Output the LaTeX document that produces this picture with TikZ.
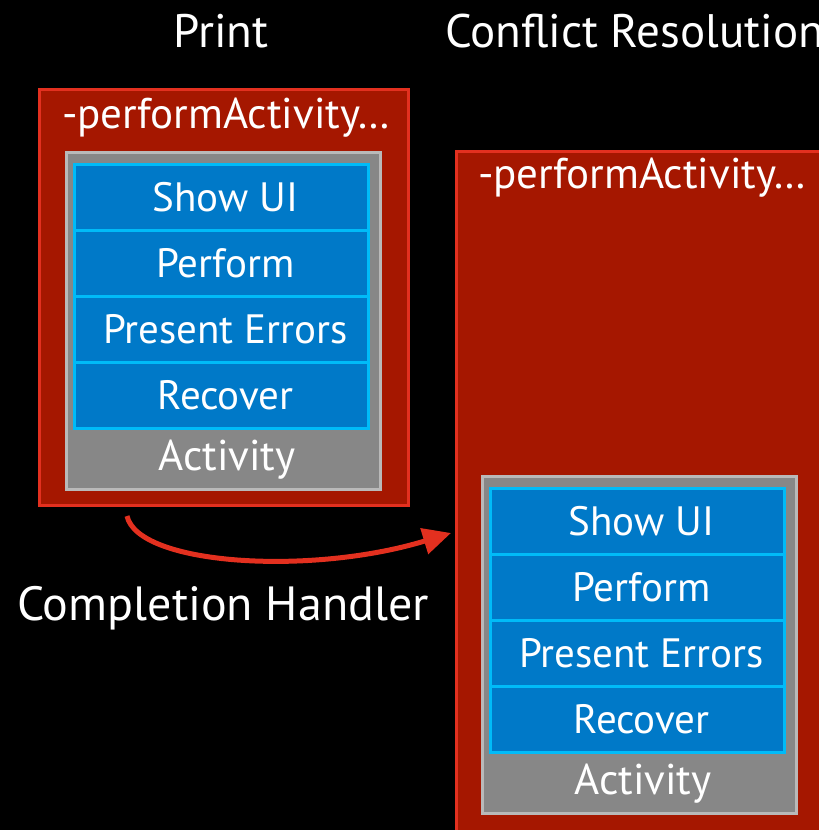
\documentclass[tikz,border=0pt]{standalone}
\usepackage{fontspec}
\setmainfont{PT Sans}
\usetikzlibrary{arrows.meta}
\definecolor{redfill}{HTML}{A51700}
\definecolor{redline}{HTML}{E3301F}
\definecolor{grayfill}{HTML}{878787}
\definecolor{grayline}{HTML}{B9B9B9}
\definecolor{bluefill}{HTML}{0079C8}
\definecolor{cyanline}{HTML}{00BBF8}
\tikzset{
  redbox/.style={draw=redline, fill=redfill, line width=3pt, rectangle, inner sep=0pt},
  graybox/.style={draw=grayline, fill=grayfill, line width=3pt, rectangle, inner sep=0pt, minimum width=314pt, minimum height=337pt},
  cell/.style={draw=cyanline, fill=bluefill, line width=3pt, rectangle, inner sep=0pt, minimum width=294pt, minimum height=66pt, text=white, font=\fontsize{41}{48}\selectfont, execute at begin node={\hspace*{8pt}}},
  title/.style={text=white, font=\fontsize{47}{54}\selectfont, inner sep=0pt},
  label/.style={text=white, font=\fontsize{43}{50}\selectfont, inner sep=0pt},
  conn/.style={draw=redline, line width=5pt, -{Triangle[length=28pt,width=26pt]}}
}
\begin{document}
\begin{tikzpicture}[x=1pt,y=-1pt]
\fill[black] (0,0) rectangle (819,830);
\useasboundingbox (0,0) rectangle (819,830);
\clip (0,0) rectangle (819,830);
% titles
\node[title] (tprint) at (221,31) {Print};
\node[title, anchor=west] (tconf) at (445,31) {Conflict Resolution};
% left
\node[redbox, minimum width=369pt, minimum height=416pt] (Lred) at (224,297.5) {};
\node[label, anchor=west] (Lperf) at (62,118) {-performActivity…};
\node[graybox] (Lgray) at (223.5,321) {};
\node[cell] (L1) at (221.5,197.5) {Show UI};
\node[cell] (L2) at (221.5,263.5) {Perform};
\node[cell] (L3) at (221.5,329.5) {Present Errors};
\node[cell] (L4) at (221.5,395.5) {Recover};
\node[label] (Lact) at (227,460) {Activity};
% right
\node[redbox, minimum width=500pt, minimum height=760pt, anchor=north west] (Rred) at (454.5,149.5) {};
\node[label, anchor=west] (Rperf) at (478,178) {-performActivity…};
\node[graybox] (Rgray) at (639.5,645) {};
\node[cell] (R1) at (637.5,521.5) {Show UI};
\node[cell] (R2) at (637.5,587.5) {Perform};
\node[cell] (R3) at (637.5,653.5) {Present Errors};
\node[cell] (R4) at (637.5,719.5) {Recover};
\node[label] (Ract) at (643,784) {Activity};
% connector
\coordinate (cs) at (127,516);
\coordinate (ce) at (451,533);
\draw[conn] (cs) .. controls (138,565) and (310,576) .. (ce);
\node[title, font=\fontsize{48}{56}\selectfont] (comp) at (223,608) {Completion Handler};
\end{tikzpicture}
\end{document}
